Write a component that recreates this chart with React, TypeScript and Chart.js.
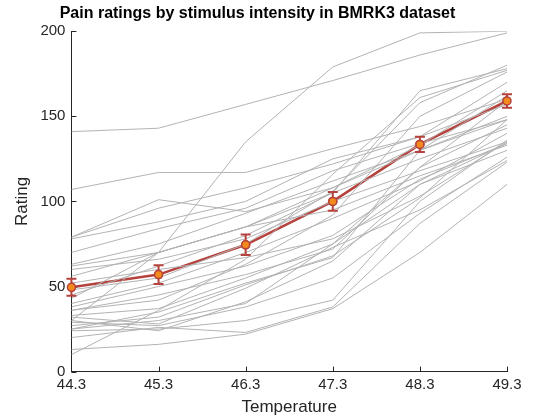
import { useEffect, useRef } from 'react'
import { Chart, registerables } from 'chart.js'

Chart.register(...registerables)

const temperatures = [44.3, 45.3, 46.3, 47.3, 48.3, 49.3]
const meanRating = [49.5, 57, 74.5, 100, 133.5, 159]
const meanError = [5, 5.5, 6, 5.5, 4.5, 4]
const yTicks = [0, 50, 100, 150, 200]

const subjects: number[][] = [
  [141, 143, 157, 171, 186, 199],
  [107, 117, 117, 131, 144, 160],
  [79, 96, 108, 122, 138, 157],
  [78, 88, 100, 125, 138, 170],
  [79, 101, 94, 108, 130, 150],
  [70, 84, 96, 118, 134, 148],
  [63, 75, 93, 112, 130, 148],
  [62, 70, 85, 105, 125, 143],
  [60, 66, 78, 100, 118, 135],
  [56, 70, 85, 108, 133, 165],
  [52, 60, 67, 78, 103, 135],
  [48, 55, 75, 106, 158, 180],
  [43, 70, 85, 95, 115, 133],
  [38, 50, 62, 80, 113, 134],
  [36, 42, 63, 92, 150, 176],
  [36, 45, 57, 72, 120, 145],
  [33, 37, 55, 75, 110, 130],
  [32, 28, 49, 73, 95, 124],
  [30, 24, 41, 65, 110, 134],
  [29, 27, 38, 55, 93, 126],
  [27, 32, 51, 68, 102, 148],
  [25, 30, 40, 75, 120, 159],
  [24, 25, 30, 42, 100, 136],
  [20, 26, 23, 38, 87, 123],
  [13, 16, 22, 37, 70, 110],
  [10, 36, 66, 116, 161, 177],
  [30, 70, 135, 179, 199, 200],
  [45, 62, 80, 105, 165, 178],
  [25, 35, 52, 67, 130, 162],
  [40, 52, 70, 90, 112, 140],
]

const errorBars = {
  id: 'errorBars',
  afterDatasetsDraw(chart: any) {
    const { ctx, scales, chartArea } = chart
    const meta = chart.getDatasetMeta(chart.data.datasets.length - 1)
    ctx.save()
    // inward tick marks, MATLAB style
    ctx.strokeStyle = '#262626'
    ctx.lineWidth = 1
    ctx.beginPath()
    temperatures.forEach((t) => {
      const x = Math.round(scales.x.getPixelForValue(t)) + 0.5
      ctx.moveTo(x, chartArea.bottom)
      ctx.lineTo(x, chartArea.bottom - 5)
    })
    yTicks.forEach((v) => {
      const y = Math.round(scales.y.getPixelForValue(v)) + 0.5
      ctx.moveTo(chartArea.left, y)
      ctx.lineTo(chartArea.left + 5, y)
    })
    ctx.stroke()
    ctx.strokeStyle = '#b5423c'
    ctx.lineWidth = 2
    meta.data.forEach((pt: any, i: number) => {
      const yTop = scales.y.getPixelForValue(meanRating[i] + meanError[i])
      const yBot = scales.y.getPixelForValue(meanRating[i] - meanError[i])
      ctx.beginPath()
      ctx.moveTo(pt.x, yTop)
      ctx.lineTo(pt.x, yBot)
      ctx.moveTo(pt.x - 5, yTop)
      ctx.lineTo(pt.x + 5, yTop)
      ctx.moveTo(pt.x - 5, yBot)
      ctx.lineTo(pt.x + 5, yBot)
      ctx.stroke()
    })
    ctx.restore()
    // redraw points on top
    meta.data.forEach((pt: any) => pt.draw(ctx, chart.chartArea))
  },
}

const App = () => {
  const canvasRef = useRef<HTMLCanvasElement>(null)

  useEffect(() => {
    document.body.style.margin = '0'
    const font = 'Liberation Sans'
    const chart = new Chart(canvasRef.current!, {
      type: 'line',
      data: {
        datasets: [
          ...subjects.map((s) => ({
            data: s.map((v, i) => ({ x: temperatures[i], y: v })),
            borderColor: '#b3b3b3',
            borderWidth: 1,
            pointRadius: 0,
            tension: 0,
          })),
          {
            data: meanRating.map((v, i) => ({ x: temperatures[i], y: v })),
            borderColor: '#b5423c',
            borderWidth: 2.5,
            pointRadius: 4,
            pointBackgroundColor: '#f28a1c',
            pointBorderColor: '#b5423c',
            pointBorderWidth: 1.5,
            tension: 0,
          },
        ],
      },
      options: {
        animation: false,
        responsive: false,
        layout: { padding: { top: 2, right: 53, left: 8, bottom: 2 } },
        plugins: {
          legend: { display: false },
          tooltip: { enabled: false },
          title: {
            display: true,
            text: 'Pain ratings by stimulus intensity in BMRK3 dataset',
            color: '#000',
            font: { family: font, size: 16, weight: 'bold' },
            padding: { top: 2, bottom: 8 },
          },
        },
        scales: {
          x: {
            type: 'linear',
            min: 44.3,
            max: 49.3,
            afterBuildTicks: (axis: any) => {
              axis.ticks = temperatures.map((v) => ({ value: v }))
            },
            ticks: {
              color: '#262626',
              font: { family: font, size: 15 },
              callback: (v: any) => Number(v).toFixed(1),
              maxRotation: 0,
              padding: 4,
            },
            grid: { display: false, drawTicks: false },
            border: { color: '#262626', width: 1 },
            title: {
              display: true,
              text: 'Temperature',
              color: '#262626',
              font: { family: font, size: 17 },
              padding: { top: 0, bottom: 0 },
            },
          },
          y: {
            min: 0,
            max: 200,
            afterBuildTicks: (axis: any) => {
              axis.ticks = yTicks.map((v) => ({ value: v }))
            },
            ticks: { color: '#262626', font: { family: font, size: 15 }, padding: 6 },
            grid: { display: false, drawTicks: false },
            border: { color: '#262626', width: 1 },
            title: {
              display: true,
              text: 'Rating',
              color: '#262626',
              font: { family: font, size: 17 },
              padding: { bottom: 2 },
            },
          },
        },
      },
      plugins: [errorBars],
    })
    return () => chart.destroy()
  }, [])

  return <canvas ref={canvasRef} width={560} height={420}></canvas>
}

export default App
